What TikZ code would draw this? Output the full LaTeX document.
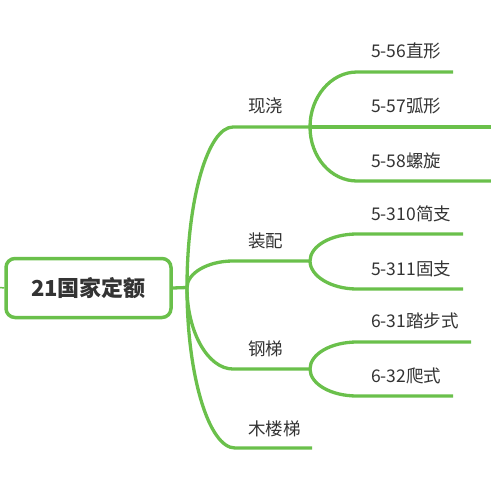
\documentclass[tikz,border=0pt]{standalone}
\usepackage{fontspec}
\setmainfont{Noto Sans CJK SC}
\begin{document}
\begin{tikzpicture}[x=1pt,y=-1pt]
\definecolor{mm}{RGB}{106,192,75}
\definecolor{tx}{RGB}{51,51,51}
\tikzset{
  br/.style={draw=mm, line width=3.3pt},
  stub/.style={draw=mm, line width=1.5pt},
  lbl/.style={anchor=west, inner sep=0pt, text=tx, font=\fontsize{17.5}{17.5}\selectfont},
  rootbox/.style={draw=mm, line width=3.5pt, rounded corners=9pt, minimum width=165pt, minimum height=59pt, inner sep=0pt, text=tx, font=\fontsize{22}{22}\selectfont\bfseries}
}
\useasboundingbox (0,0) rectangle (491,480);
\node[rootbox] (root) at (88.5,288) {21国家定额};
\coordinate (L) at (0,287.5);
\coordinate (J0) at (187,287.5);
% first level ends
\coordinate (A1) at (233,127); \coordinate (J1) at (310,127);
\coordinate (A2) at (233,261); \coordinate (J2) at (310,261);
\coordinate (A3) at (233,369); \coordinate (J3) at (310,369);
\coordinate (A4) at (235,448); \coordinate (E4) at (312,448);
% second level
\coordinate (B11) at (357,72);  \coordinate (E11) at (453,72);
\coordinate (E12) at (491,127);
\coordinate (B13) at (357,181); \coordinate (E13) at (491,181);
\coordinate (B21) at (357,234); \coordinate (E21) at (463,234);
\coordinate (B22) at (357,289); \coordinate (E22) at (463,289);
\coordinate (B31) at (357,342); \coordinate (E31) at (471,342);
\coordinate (B32) at (357,396); \coordinate (E32) at (453,396);

\draw[stub] (L) -- (root.west);
\draw[br] (root.east) -- (J0);
\draw[br] (J0) .. controls (187,199) and (208,127) .. (A1) -- (J1);
\draw[br] (J0) .. controls (187,273) and (208,261) .. (A2) -- (J2);
\draw[br] (J0) .. controls (187,332) and (208,369) .. (A3) -- (J3);
\draw[br] (J0) .. controls (187,376) and (209,448) .. (A4) -- (E4);

\draw[br] (J1) .. controls (310,97) and (331,72) .. (B11) -- (E11);
\draw[br] (J1) -- (E12);
\draw[br] (J1) .. controls (310,157) and (331,181) .. (B13) -- (E13);
\draw[br] (J2) .. controls (310,246) and (331,234) .. (B21) -- (E21);
\draw[br] (J2) .. controls (310,276) and (331,289) .. (B22) -- (E22);
\draw[br] (J3) .. controls (310,354) and (331,342) .. (B31) -- (E31);
\draw[br] (J3) .. controls (310,384) and (331,396) .. (B32) -- (E32);

\node[lbl] (l1) at (248,106) {现浇};
\node[lbl] (l2) at (248,241) {装配};
\node[lbl] (l3) at (248,349) {钢梯};
\node[lbl] (l4) at (248,429) {木楼梯};
\node[lbl] (l11) at (371,51) {5-56直形};
\node[lbl] (l12) at (371,106) {5-57弧形};
\node[lbl] (l13) at (371,161) {5-58螺旋};
\node[lbl] (l21) at (371,214) {5-310简支};
\node[lbl] (l22) at (371,269) {5-311固支};
\node[lbl] (l31) at (371,321) {6-31踏步式};
\node[lbl] (l32) at (371,376) {6-32爬式};
\end{tikzpicture}
\end{document}
